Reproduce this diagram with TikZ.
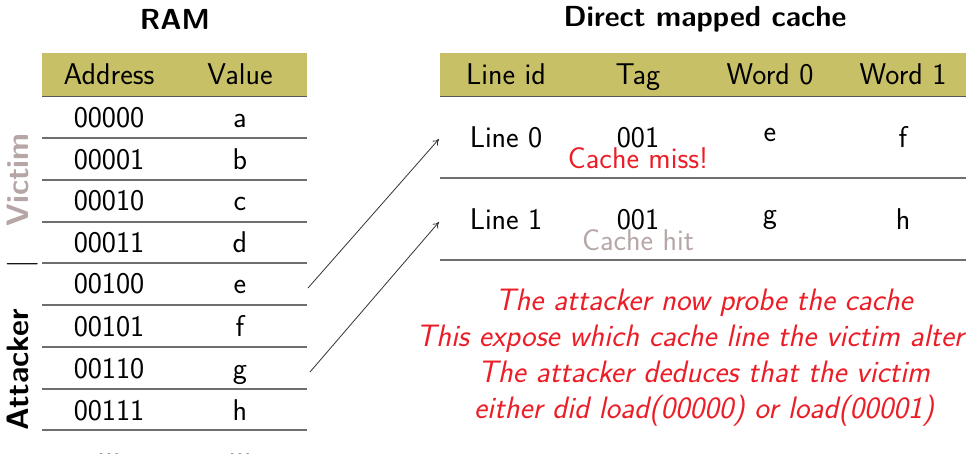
\documentclass[tikz,border=0pt]{standalone}
\usepackage{tikz}
\usetikzlibrary{arrows.meta}
\renewcommand{\familydefault}{\sfdefault}
\definecolor{olive}{RGB}{200,192,102}
\definecolor{rulegrey}{RGB}{110,110,110}
\definecolor{softgrey}{RGB}{182,166,166}
\definecolor{alertred}{RGB}{235,30,40}
\begin{document}
\begin{tikzpicture}[x=1pt,y=-1pt,
  txt/.style={font=\fontsize{30}{34}\selectfont\sffamily, inner sep=0pt, anchor=base},
  ttl/.style={font=\fontsize{29}{32}\selectfont\sffamily\bfseries, inner sep=0pt, anchor=base},
  side/.style={font=\fontsize{31}{34}\selectfont\sffamily\bfseries, inner sep=0pt, rotate=90, anchor=center},
  hdr/.style={fill=olive, draw=none},
  rowrule/.style={draw=rulegrey, line width=1.5pt},
  hdrrule/.style={draw=rulegrey!80!black, line width=1.8pt},
  conn/.style={-{To[length=6pt,width=7pt]}, line width=0.8pt, draw=black!80}]
\useasboundingbox (0,0) rectangle (966,454);
% ---------- RAM ----------
\node[ttl] (ramT) at (175,30) {RAM};
\fill[hdr] (42,53) rectangle (307,96);
\draw[hdrrule] (42,96.5) -- (307,96.5);
\node[txt] (hA) at (109,85) {Address};
\node[txt] (hV) at (240,85) {Value};
\foreach \y in {138,180,222,263,305,347,389,430}
  \draw[rowrule] (42,\y) -- (307,\y);
\foreach \a/\v/\y [count=\i] in {00000/a/128,00001/b/170,00010/c/211,00011/d/253,00100/e/294,00101/f/336,00110/g/378,00111/h/420}{
  \node[txt] (ad\i) at (109,\y) {\a};
  \node[txt] (va\i) at (240,\y) {\v};
}
\node[txt] (adE) at (109,456) {...};
\node[txt] (vaE) at (240,456) {...};
% side labels
\node[side, text=softgrey] (vic) at (18,180) {Victim};
\node[side, font=\fontsize{31}{34}\selectfont\sffamily] (bar) at (23,264) {|};
\node[side] (att) at (18,370) {Attacker};
% ---------- Cache ----------
\node[ttl] (cacheT) at (705,27) {Direct mapped cache};
\fill[hdr] (440,53) rectangle (966,96);
\draw[hdrrule] (440,96.5) -- (966,96.5);
\node[txt] (hL) at (506,85) {Line id};
\node[txt] (hT) at (638,85) {Tag};
\node[txt] (hW0) at (770,85) {Word 0};
\node[txt] (hW1) at (903,85) {Word 1};
\draw[rowrule] (440,178) -- (966,178);
\draw[rowrule] (440,260) -- (966,260);
\node[txt] (l0) at (506,148) {Line 0};
\node[txt] (t0) at (638,148) {001};
\node[txt] (e0) at (770,142) {e};
\node[txt] (f0) at (903,148) {f};
\node[txt, text=alertred] (miss) at (638,169) {Cache miss!};
\node[txt] (l1) at (506,230) {Line 1};
\node[txt] (t1) at (638,230) {001};
\node[txt] (g1) at (770,224) {g};
\node[txt] (h1) at (903,230) {h};
\node[txt, text=softgrey] (hit) at (638,251) {Cache hit};
% arrows
\coordinate (s1) at (308,288);
\coordinate (e1) at (439,139);
\coordinate (s2) at (310,372);
\coordinate (e2) at (439,222);
\draw[conn] (s1) -- (e1);
\draw[conn] (s2) -- (e2);
% explanation
\node[font=\fontsize{31}{36}\selectfont\sffamily\itshape, text=alertred, align=center, inner sep=0pt, anchor=north] (expl) at (704,289)
 {The attacker now probe the cache\\This expose which cache line the victim altered\\The attacker deduces that the victim\\either did load(00000) or load(00001)};
\end{tikzpicture}
\end{document}
